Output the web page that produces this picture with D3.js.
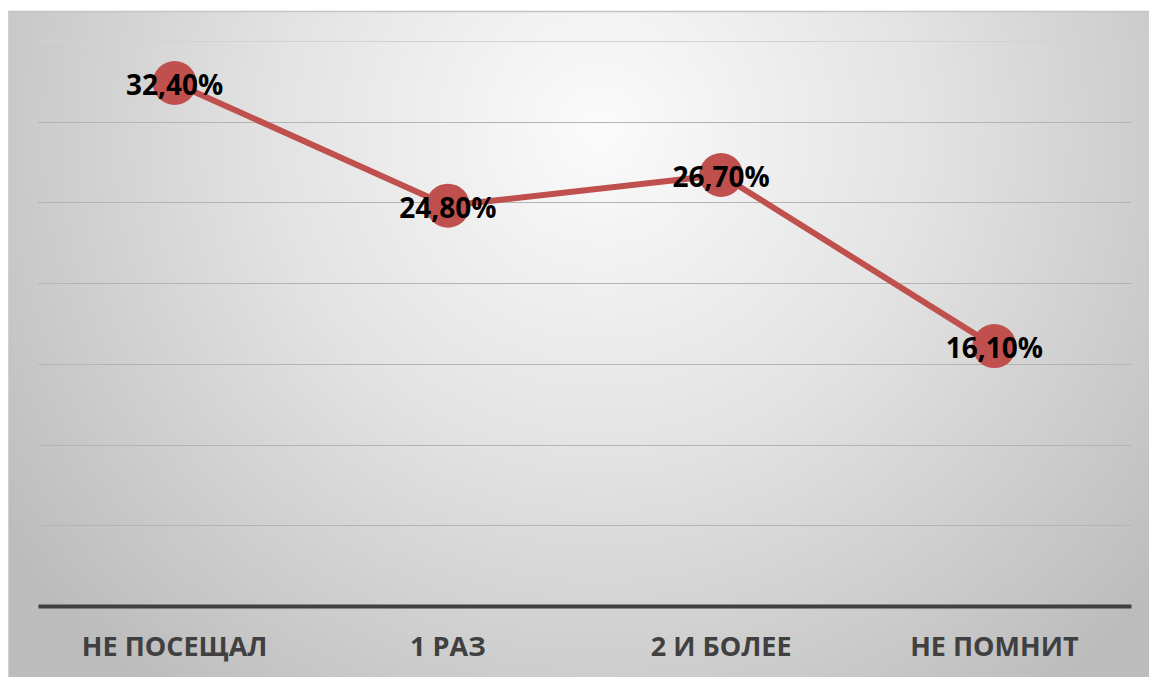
<!DOCTYPE html>
<html><head><meta charset="utf-8">
<script src="https://cdn.jsdelivr.net/npm/d3@7"></script>
<style>html,body{margin:0;padding:0;background:#fff;overflow:hidden}</style>
</head><body>
<svg id="c" width="1149" height="677"></svg>
<script>
const categories = ["НЕ ПОСЕЩАЛ", "1 РАЗ", "2 И БОЛЕЕ", "НЕ ПОМНИТ"];
const values = [32.4, 24.8, 26.7, 16.1];
const valueLabels = ["32,40%", "24,80%", "26,70%", "16,10%"];
const gridTicks = [0, 5, 10, 15, 20, 25, 30, 35];

const svg = d3.select("#c");
const W = 1149, H = 677;
const frame = {x: 8, y: 11};
const m = {left: 38, right: 1131, top: 41, bottom: 606};

const defs = svg.append("defs");
const g = defs.append("radialGradient").attr("id","bg")
  .attr("gradientUnits","userSpaceOnUse")
  .attr("cx", 600).attr("cy", 130).attr("r", 720);
g.append("stop").attr("offset","0%").attr("stop-color","#fbfbfb");
g.append("stop").attr("offset","45%").attr("stop-color","#e3e3e3");
g.append("stop").attr("offset","100%").attr("stop-color","#bcbcbc");

svg.append("rect").attr("x", frame.x).attr("y", frame.y)
  .attr("width", W - frame.x + 2).attr("height", H - frame.y + 2)
  .attr("fill","url(#bg)");
svg.append("line").attr("x1", frame.x).attr("x2", W).attr("y1", frame.y + 0.5).attr("y2", frame.y + 0.5)
  .attr("stroke","#c4c4c4").attr("stroke-width",1.5);
svg.append("line").attr("x1", frame.x + 0.5).attr("x2", frame.x + 0.5).attr("y1", frame.y).attr("y2", H)
  .attr("stroke","#d0d0d0").attr("stroke-width",1);

const x = d3.scaleBand().domain(categories).range([m.left, m.right]);
const y = d3.scaleLinear().domain([0, 35]).range([m.bottom, m.top]);

// gridlines
svg.append("g").selectAll("line").data(gridTicks.filter(t => t > 0)).join("line")
  .attr("x1", m.left).attr("x2", m.right)
  .attr("y1", d => Math.round(y(d)) + 0.5).attr("y2", d => Math.round(y(d)) + 0.5)
  .attr("stroke", d => d === 35 ? "#d2d2d2" : "#b4b4b4").attr("stroke-width",1);

// baseline axis
const xAxis = svg.append("g").attr("transform", `translate(0,${y(0)})`)
  .call(d3.axisBottom(x).tickSize(0).tickPadding(31));
xAxis.select(".domain").attr("stroke","#404040").attr("stroke-width",4);
xAxis.selectAll("text").attr("fill","#404040")
  .style("font-family","'Open Sans', 'DejaVu Sans', sans-serif")
  .style("font-weight","700").style("font-size","27px");

const cx = d => x(d) + x.bandwidth()/2;

// line
svg.append("path").datum(values)
  .attr("fill","none").attr("stroke","#c0504d").attr("stroke-width",6)
  .attr("stroke-linejoin","round")
  .attr("d", d3.line().x((d,i) => cx(categories[i])).y(d => y(d)));

// markers
svg.append("g").selectAll("circle").data(values).join("circle")
  .attr("cx", (d,i) => cx(categories[i])).attr("cy", d => y(d))
  .attr("r", 22).attr("fill","#c0504d");

// labels
svg.append("g").selectAll("text").data(values).join("text")
  .attr("x", (d,i) => cx(categories[i])).attr("y", d => y(d) + 1)
  .attr("text-anchor","middle").attr("dominant-baseline","central")
  .style("font-family","'Open Sans', 'DejaVu Sans', sans-serif")
  .style("font-weight","700").style("font-size","28px").attr("fill","#000")
  .text((d,i) => valueLabels[i]);
</script>
</body></html>
